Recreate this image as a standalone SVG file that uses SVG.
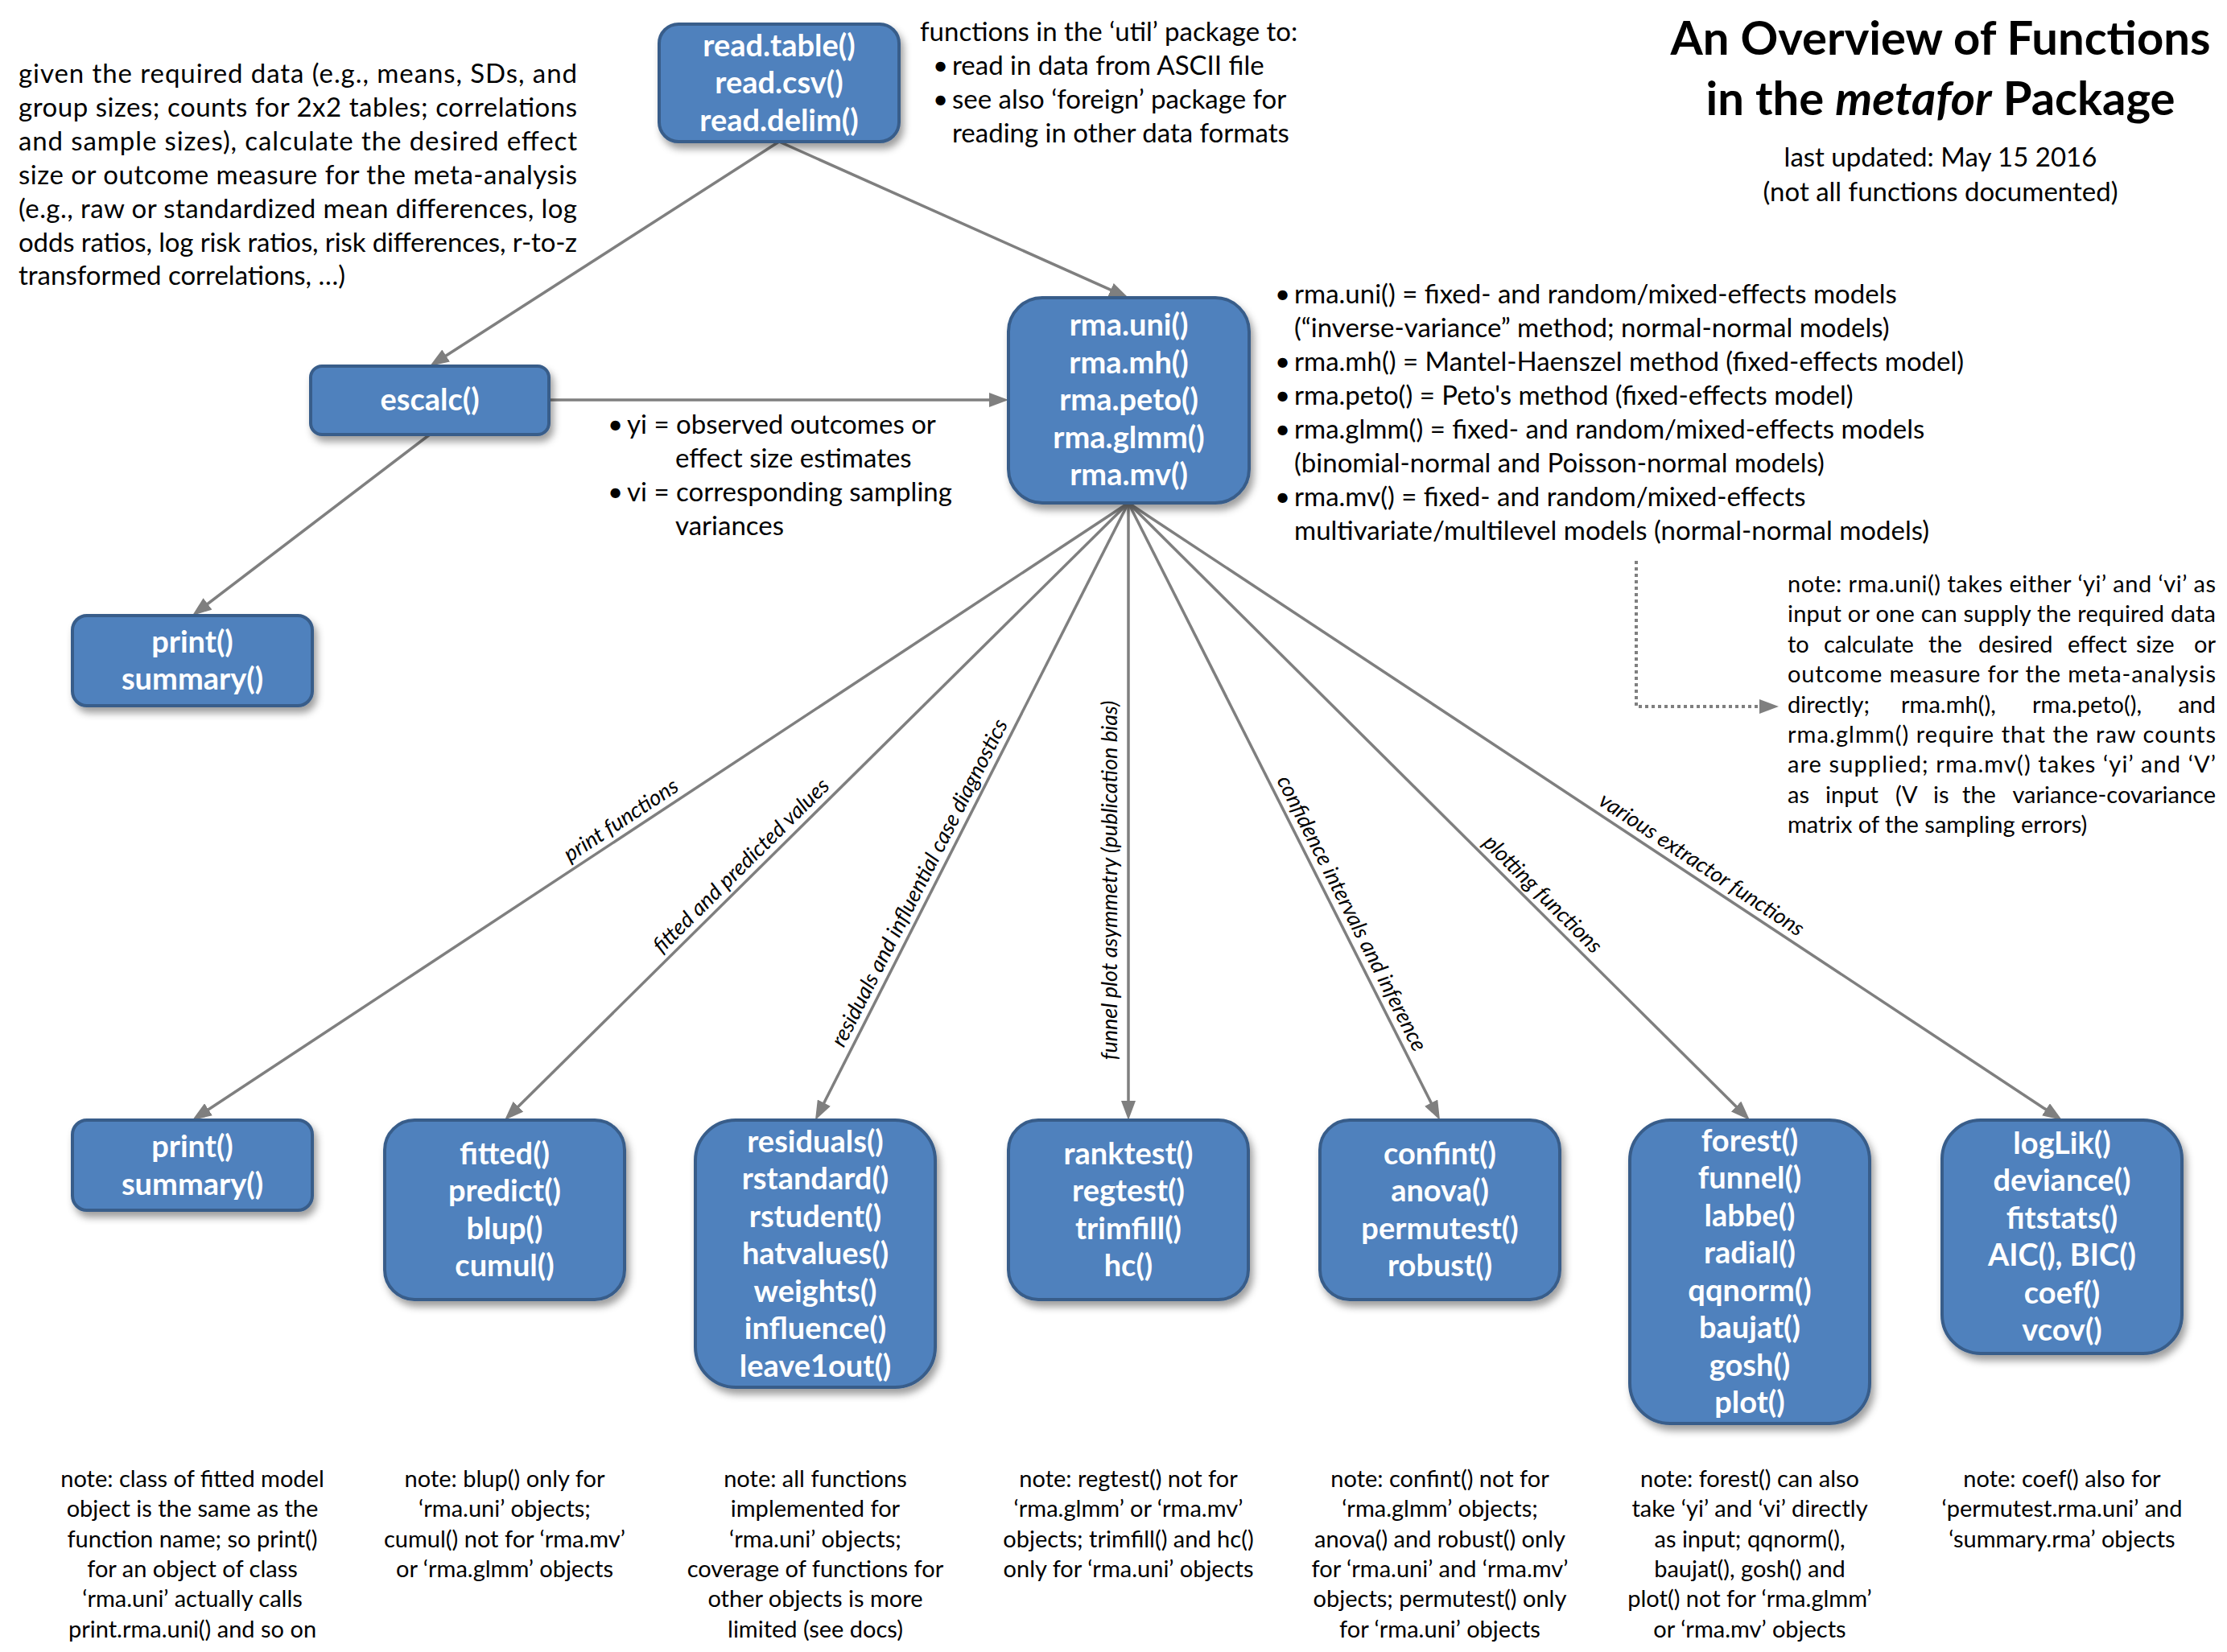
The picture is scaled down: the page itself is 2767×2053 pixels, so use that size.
<svg xmlns="http://www.w3.org/2000/svg" width="2767" height="2053" viewBox="0 0 2767 2053">
<defs>
<style>
text{font-family:Lato,"Liberation Sans",sans-serif;fill:#000}
.t{font-size:33px}
.n{font-size:29px}
.c{text-anchor:middle}
.e{text-anchor:end}
.box{fill:#4F81BD;stroke:#385D8A;stroke-width:4}
.bt{font-weight:bold;font-size:38px;fill:#fff;text-anchor:middle}
.ttl{font-weight:bold;font-size:58px;text-anchor:middle}
.lbl{font-style:italic;font-size:27px;text-anchor:middle}
.con{stroke:#7F7F7F;stroke-width:3.5;fill:none;marker-end:url(#ah)}
.dot{stroke-dasharray:4 4;stroke-width:4}
</style>
<filter id="sh" x="-10%" y="-10%" width="130%" height="140%">
<feDropShadow dx="4" dy="7" stdDeviation="5" flood-color="#000" flood-opacity="0.38"/>
</filter>
<marker id="ah" markerUnits="userSpaceOnUse" markerWidth="24" markerHeight="18" viewBox="0 0 24 18" refX="12" refY="9" orient="auto">
<path d="M0,0 L24,9 L0,18 z" fill="#7F7F7F"/>
</marker>
</defs>
<rect x="0" y="0" width="2767" height="2053" fill="#fff"/>

<g id="connectors">
<line class="con" x1="968" y1="176" x2="544.1" y2="448.5"/>
<line class="con" x1="968" y1="176" x2="1391" y2="365.1"/>
<line class="con" x1="682" y1="497" x2="1241" y2="497"/>
<line class="con" x1="534" y1="540" x2="248.5" y2="757.7"/>
<line class="con" x1="1402" y1="625" x2="249" y2="1385.4"/>
<line class="con" x1="1402" y1="625" x2="635.5" y2="1383.6"/>
<line class="con" x1="1402" y1="625" x2="1018.4" y2="1381.3"/>
<line class="con" x1="1402" y1="625" x2="1402" y2="1380"/>
<line class="con" x1="1402" y1="625" x2="1783.6" y2="1381.3"/>
<line class="con" x1="1402" y1="625" x2="2165.5" y2="1383.5"/>
<line class="con" x1="1402" y1="625" x2="2552" y2="1385.4"/>
<path class="con dot" d="M2033,697 V878 H2198"/>
<text class="lbl" transform="translate(776.5,1026.7) rotate(-33.4)">print functions</text>
<text class="lbl" transform="translate(927.2,1082.2) rotate(-44.7)">fitted and predicted values</text>
<text class="lbl" transform="translate(1150.4,1101.3) rotate(-63.1)">residuals and influential case diagnostics</text>
<text class="lbl" transform="translate(1388,1094) rotate(-90)">funnel plot asymmetry (publication bias)</text>
<text class="lbl" transform="translate(1671.5,1139.2) rotate(63.2)">confidence intervals and inference</text>
<text class="lbl" transform="translate(1910.4,1117.5) rotate(44.8)">plotting functions</text>
<text class="lbl" transform="translate(2109.3,1081.9) rotate(33.5)">various extractor functions</text>
</g>

<g id="n-read">
<rect class="box" filter="url(#sh)" x="819" y="30" width="298" height="146" rx="24"/>
<text class="bt"><tspan x="968" y="69.5">read.table()</tspan><tspan x="968" y="116">read.csv()</tspan><tspan x="968" y="162.5">read.delim()</tspan></text>
</g>
<g id="n-escalc">
<rect class="box" filter="url(#sh)" x="386" y="455" width="296" height="85" rx="14"/>
<text class="bt" x="534" y="510">escalc()</text>
</g>
<g id="n-print-top">
<rect class="box" filter="url(#sh)" x="90" y="765" width="298" height="112" rx="18"/>
<text class="bt"><tspan x="239" y="810.75">print()</tspan><tspan x="239" y="857.25">summary()</tspan></text>
</g>
<g id="n-rma">
<rect class="box" filter="url(#sh)" x="1253" y="370" width="299" height="255" rx="42"/>
<text class="bt"><tspan x="1402.5" y="417">rma.uni()</tspan><tspan x="1402.5" y="463.5">rma.mh()</tspan><tspan x="1402.5" y="510">rma.peto()</tspan><tspan x="1402.5" y="556.5">rma.glmm()</tspan><tspan x="1402.5" y="603">rma.mv()</tspan></text>
</g>
<g id="n-print">
<rect class="box" filter="url(#sh)" x="90" y="1392" width="298" height="112" rx="18"/>
<text class="bt"><tspan x="239" y="1438">print()</tspan><tspan x="239" y="1484.5">summary()</tspan></text>
</g>
<g id="n-fitted">
<rect class="box" filter="url(#sh)" x="478" y="1392" width="298" height="223" rx="37"/>
<text class="bt"><tspan x="627" y="1446.75">fitted()</tspan><tspan x="627" y="1493.25">predict()</tspan><tspan x="627" y="1539.75">blup()</tspan><tspan x="627" y="1586.25">cumul()</tspan></text>
</g>
<g id="n-residuals">
<rect class="box" filter="url(#sh)" x="864" y="1392" width="298" height="332" rx="50"/>
<text class="bt"><tspan x="1013" y="1431.5">residuals()</tspan><tspan x="1013" y="1478">rstandard()</tspan><tspan x="1013" y="1524.5">rstudent()</tspan><tspan x="1013" y="1571">hatvalues()</tspan><tspan x="1013" y="1617.5">weights()</tspan><tspan x="1013" y="1664">influence()</tspan><tspan x="1013" y="1710.5">leave1out()</tspan></text>
</g>
<g id="n-ranktest">
<rect class="box" filter="url(#sh)" x="1253" y="1392" width="298" height="223" rx="37"/>
<text class="bt"><tspan x="1402" y="1446.75">ranktest()</tspan><tspan x="1402" y="1493.25">regtest()</tspan><tspan x="1402" y="1539.75">trimfill()</tspan><tspan x="1402" y="1586.25">hc()</tspan></text>
</g>
<g id="n-confint">
<rect class="box" filter="url(#sh)" x="1640" y="1392" width="298" height="223" rx="37"/>
<text class="bt"><tspan x="1789" y="1446.75">confint()</tspan><tspan x="1789" y="1493.25">anova()</tspan><tspan x="1789" y="1539.75">permutest()</tspan><tspan x="1789" y="1586.25">robust()</tspan></text>
</g>
<g id="n-forest">
<rect class="box" filter="url(#sh)" x="2025" y="1392" width="298" height="377" rx="50"/>
<text class="bt"><tspan x="2174" y="1430.75">forest()</tspan><tspan x="2174" y="1477.25">funnel()</tspan><tspan x="2174" y="1523.75">labbe()</tspan><tspan x="2174" y="1570.25">radial()</tspan><tspan x="2174" y="1616.75">qqnorm()</tspan><tspan x="2174" y="1663.25">baujat()</tspan><tspan x="2174" y="1709.75">gosh()</tspan><tspan x="2174" y="1756.25">plot()</tspan></text>
</g>
<g id="n-loglik">
<rect class="box" filter="url(#sh)" x="2413" y="1392" width="298" height="290" rx="48"/>
<text class="bt"><tspan x="2562" y="1433.75">logLik()</tspan><tspan x="2562" y="1480.25">deviance()</tspan><tspan x="2562" y="1526.75">fitstats()</tspan><tspan x="2562" y="1573.25">AIC(), BIC()</tspan><tspan x="2562" y="1619.75">coef()</tspan><tspan x="2562" y="1666.25">vcov()</tspan></text>
</g>

<g id="title">
<text class="ttl" x="2411" y="68">An Overview of Functions</text>
<text class="ttl" x="2411" y="143">in the <tspan font-style="italic">metafor</tspan> Package</text>
<text class="t c" x="2411" y="207">last updated: May 15 2016</text>
<text class="t c" x="2411" y="250">(not all functions documented)</text>
</g>

<g id="text-escalc-desc">
<text class="t" x="23" y="103" textLength="694" lengthAdjust="spacing">given the required data (e.g., means, SDs, and</text>
<text class="t" x="23" y="145" textLength="694" lengthAdjust="spacing">group sizes; counts for 2x2 tables; correlations</text>
<text class="t" x="23" y="187" textLength="694" lengthAdjust="spacing">and sample sizes), calculate the desired effect</text>
<text class="t" x="23" y="229" textLength="694" lengthAdjust="spacing">size or outcome measure for the meta-analysis</text>
<text class="t" x="23" y="271" textLength="694" lengthAdjust="spacing">(e.g., raw or standardized mean differences, log</text>
<text class="t" x="23" y="313" textLength="694" lengthAdjust="spacing">odds ratios, log risk ratios, risk differences, r-to-z</text>
<text class="t" x="23" y="354">transformed correlations, …)</text>
</g>

<g id="text-util">
<text class="t" x="1143" y="51">functions in the ‘util’ package to:</text>
<text class="t" x="1159" y="93">•</text><text class="t" x="1183" y="93">read in data from ASCII file</text>
<text class="t" x="1159" y="135">•</text><text class="t" x="1183" y="135">see also ‘foreign’ package for</text>
<text class="t" x="1183" y="177">reading in other data formats</text>
</g>

<g id="text-yivi">
<text class="t" x="755" y="539">•</text><text class="t" x="779" y="539">yi = observed outcomes or</text>
<text class="t" x="839" y="581">effect size estimates</text>
<text class="t" x="755" y="623">•</text><text class="t" x="779" y="623">vi = corresponding sampling</text>
<text class="t" x="839" y="665">variances</text>
</g>

<g id="text-rma">
<text class="t" x="1584" y="377">•</text><text class="t" x="1608" y="377">rma.uni() = fixed- and random/mixed-effects models</text>
<text class="t" x="1608" y="419">(“inverse-variance” method; normal-normal models)</text>
<text class="t" x="1584" y="461">•</text><text class="t" x="1608" y="461">rma.mh() = Mantel-Haenszel method (fixed-effects model)</text>
<text class="t" x="1584" y="503">•</text><text class="t" x="1608" y="503">rma.peto() = Peto's method (fixed-effects model)</text>
<text class="t" x="1584" y="545">•</text><text class="t" x="1608" y="545">rma.glmm() = fixed- and random/mixed-effects models</text>
<text class="t" x="1608" y="587">(binomial-normal and Poisson-normal models)</text>
<text class="t" x="1584" y="629">•</text><text class="t" x="1608" y="629">rma.mv() = fixed- and random/mixed-effects</text>
<text class="t" x="1608" y="671">multivariate/multilevel models (normal-normal models)</text>
</g>

<g id="text-note-rma">
<text class="n" x="2221" y="736" textLength="532" lengthAdjust="spacing">note: rma.uni() takes either ‘yi’ and ‘vi’ as</text>
<text class="n" x="2221" y="773.4" textLength="532" lengthAdjust="spacing">input or one can supply the required data</text>
<text class="n" y="810.8"><tspan x="2221">to</tspan><tspan x="2266">calculate</tspan><tspan x="2396">the</tspan><tspan x="2458">desired</tspan><tspan x="2569">effect</tspan><tspan x="2654">size</tspan></text>
<text class="n e" x="2753" y="810.8">or</text>
<text class="n" x="2221" y="848.2" textLength="532" lengthAdjust="spacing">outcome measure for the meta-analysis</text>
<text class="n" y="885.6"><tspan x="2221">directly;</tspan><tspan x="2362">rma.mh(),</tspan><tspan x="2525">rma.peto(),</tspan></text>
<text class="n e" x="2753" y="885.6">and</text>
<text class="n" x="2221" y="923" textLength="532" lengthAdjust="spacing">rma.glmm() require that the raw counts</text>
<text class="n" x="2221" y="960.4" textLength="532" lengthAdjust="spacing">are supplied; rma.mv() takes ‘yi’ and ‘V’</text>
<text class="n" y="997.8"><tspan x="2221">as</tspan><tspan x="2268">input</tspan><tspan x="2355">(V</tspan><tspan x="2402">is</tspan><tspan x="2438">the</tspan></text>
<text class="n e" x="2753" y="997.8">variance-covariance</text>
<text class="n" x="2221" y="1035.2">matrix of the sampling errors)</text>
</g>

<g id="notes-bottom">
<text class="n c"><tspan x="239" y="1848">note: class of fitted model</tspan><tspan x="239" y="1885.3">object is the same as the</tspan><tspan x="239" y="1922.6">function name; so print()</tspan><tspan x="239" y="1959.9">for an object of class</tspan><tspan x="239" y="1997.2">‘rma.uni’ actually calls</tspan><tspan x="239" y="2034.5">print.rma.uni() and so on</tspan></text>
<text class="n c"><tspan x="627" y="1848">note: blup() only for</tspan><tspan x="627" y="1885.3">‘rma.uni’ objects;</tspan><tspan x="627" y="1922.6">cumul() not for ‘rma.mv’</tspan><tspan x="627" y="1959.9">or ‘rma.glmm’ objects</tspan></text>
<text class="n c"><tspan x="1013" y="1848">note: all functions</tspan><tspan x="1013" y="1885.3">implemented for</tspan><tspan x="1013" y="1922.6">‘rma.uni’ objects;</tspan><tspan x="1013" y="1959.9">coverage of functions for</tspan><tspan x="1013" y="1997.2">other objects is more</tspan><tspan x="1013" y="2034.5">limited (see docs)</tspan></text>
<text class="n c"><tspan x="1402" y="1848">note: regtest() not for</tspan><tspan x="1402" y="1885.3">‘rma.glmm’ or ‘rma.mv’</tspan><tspan x="1402" y="1922.6">objects; trimfill() and hc()</tspan><tspan x="1402" y="1959.9">only for ‘rma.uni’ objects</tspan></text>
<text class="n c"><tspan x="1789" y="1848">note: confint() not for</tspan><tspan x="1789" y="1885.3">‘rma.glmm’ objects;</tspan><tspan x="1789" y="1922.6">anova() and robust() only</tspan><tspan x="1789" y="1959.9">for ‘rma.uni’ and ‘rma.mv’</tspan><tspan x="1789" y="1997.2">objects; permutest() only</tspan><tspan x="1789" y="2034.5">for ‘rma.uni’ objects</tspan></text>
<text class="n c"><tspan x="2174" y="1848">note: forest() can also</tspan><tspan x="2174" y="1885.3">take ‘yi’ and ‘vi’ directly</tspan><tspan x="2174" y="1922.6">as input; qqnorm(),</tspan><tspan x="2174" y="1959.9">baujat(), gosh() and</tspan><tspan x="2174" y="1997.2">plot() not for ‘rma.glmm’</tspan><tspan x="2174" y="2034.5">or ‘rma.mv’ objects</tspan></text>
<text class="n c"><tspan x="2562" y="1848">note: coef() also for</tspan><tspan x="2562" y="1885.3">‘permutest.rma.uni’ and</tspan><tspan x="2562" y="1922.6">‘summary.rma’ objects</tspan></text>
</g>
</svg>
